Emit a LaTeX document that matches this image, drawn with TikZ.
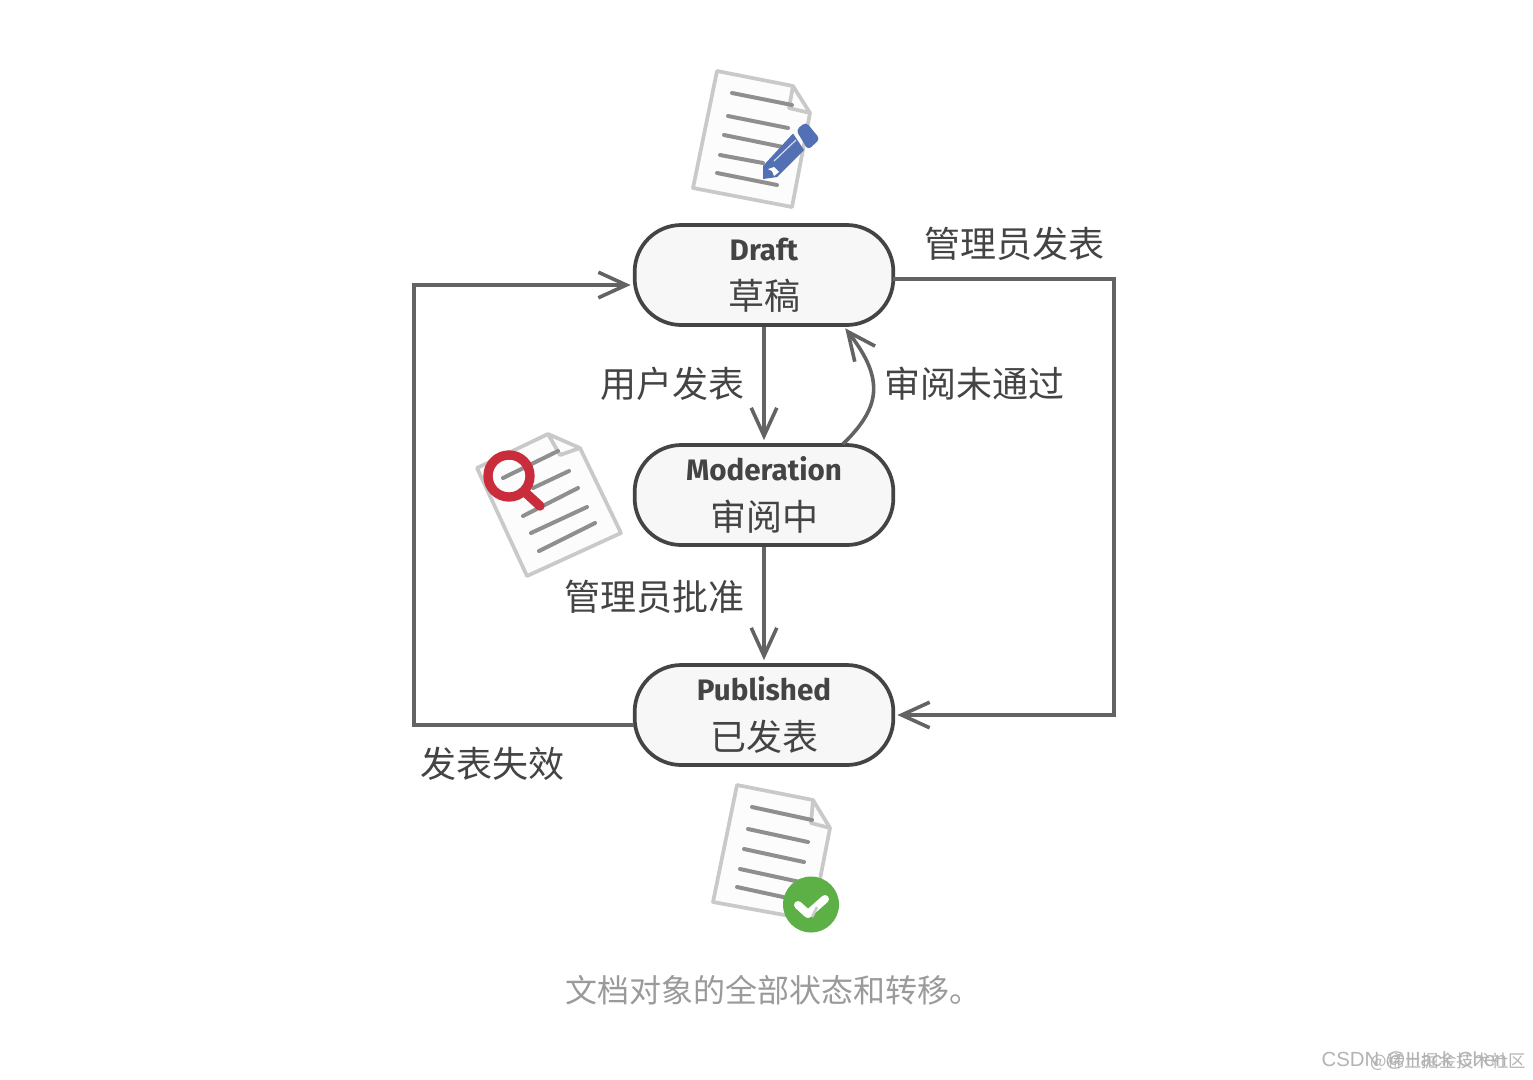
\documentclass[tikz,border=0pt]{standalone}
\usepackage{fontspec}
\usetikzlibrary{arrows.meta}
\setmainfont{Fira Sans}
\newfontfamily\cjk{Noto Sans CJK SC}
\newfontfamily\wmfont{Liberation Sans}
\definecolor{ink}{HTML}{444444}
\definecolor{wire}{HTML}{636363}
\definecolor{docedge}{HTML}{C9C9C9}
\definecolor{docline}{HTML}{8F8F8F}
\definecolor{docfill}{HTML}{FCFCFC}
\definecolor{capt}{HTML}{9A9A9A}
\definecolor{pen}{HTML}{5470B5}
\definecolor{lens}{HTML}{C92C3B}
\definecolor{okgreen}{HTML}{5CB045}
\pgfdeclarearrow{
  name = VBarb,
  setup code = {
    \pgfarrowssettipend{0pt}
    \pgfarrowssetlineend{-6pt}
    \pgfarrowssetbackend{-24.5pt}
    \pgfarrowssetvisualbackend{-6pt}
    \pgfarrowshullpoint{0pt}{0pt}
    \pgfarrowshullpoint{-24.5pt}{10pt}
    \pgfarrowshullpoint{-24.5pt}{-10pt}
  },
  drawing code = {
    \pgfsetlinewidth{2.7pt}
    \pgfsetmiterjoin
    \pgfsetbuttcap
    \pgfpathmoveto{\pgfqpoint{-24.5pt}{9.6pt}}
    \pgfpathlineto{\pgfqpoint{-3.5pt}{0pt}}
    \pgfpathlineto{\pgfqpoint{-24.5pt}{-9.6pt}}
    \pgfusepathqstroke
  }
}
\tikzset{
  state/.style={draw=ink,fill=black!3,line width=2.8pt,rounded corners=35pt,minimum width=194pt,minimum height=75pt,inner sep=0pt,align=center,text=ink,font=\fontsize{22.2}{35}\selectfont},
  flow/.style={draw=wire,line width=2.7pt,-{VBarb}},
  lab/.style={text=ink,inner sep=0pt,font=\fontsize{27}{30}\selectfont\cjk},
  paper/.style={draw=docedge,fill=docfill,line width=2.8pt,line join=round},
  fold/.style={draw=docedge,line width=2.8pt,line join=round},
  rule/.style={draw=docline,line width=3pt,line cap=round},
  wm/.style={inner sep=0pt,text=capt!75,anchor=east},
}
\begin{document}
\begin{tikzpicture}[x=0.75pt,y=-0.75pt]
\useasboundingbox (0,0) rectangle (1533,1079);
% draft document
\draw[paper] (717,71) -- (793,86) -- (810,113) -- (792,207) -- (693,188) -- cycle;
\draw[fold] (793,86) -- (789,108) -- (810,113);
\draw[rule] (732,93) -- (792,105);
\draw[rule] (728,116) -- (788,128);
\draw[rule] (724,135) -- (783,147);
\draw[rule] (720,155) -- (763,163);
\draw[rule] (717,173) -- (777,185);
\fill[pen] (763,166) -- (793,133.5) -- (804,150) -- (777,177) -- (763,179) -- cycle;
\fill[pen,rounded corners=3pt] (796,130) -- (806,122) -- (820,139) -- (808,150) -- cycle;
\draw[white!75!pen,line width=0.9pt] (774,161) -- (796,140);
\fill[white] (768,169) -- (774,167) -- (779,172) -- (774,176) -- (772,171) -- cycle;
% moderation document
\draw[paper] (477,468) -- (548,434) -- (580,448) -- (621,533) -- (527,576) -- cycle;
\draw[fold] (548,434) -- (560,455) -- (580,448);
\draw[rule] (503,478) -- (558,451);
\draw[rule] (533,488) -- (569,471);
\draw[rule] (523,516) -- (578,488);
\draw[rule] (531,533) -- (587,507);
\draw[rule] (539,551) -- (595,523);
\draw[lens,line width=7pt] (509,476) circle[radius=21];
\draw[lens,line width=7pt,line cap=round] (527,494) -- (540,506);
% published document
\draw[paper] (737,785) -- (813,800) -- (830,828) -- (812,920) -- (713,902) -- cycle;
\draw[fold] (813,800) -- (811,823) -- (830,828);
\draw[rule] (752,807) -- (812,820);
\draw[rule] (748,829) -- (808,842);
\draw[rule] (744,849) -- (804,862);
\draw[rule] (740,869) -- (800,882);
\draw[rule] (737,887) -- (797,900);
\fill[okgreen] (811,904.5) circle[radius=28];
\draw[white,line width=6pt,line cap=round,line join=round] (798,905) -- (808,914) -- (825,899);
\draw[docedge,line width=2pt] (817,907) -- (812,917);
% states
\node[state] (draft) at (764,275) {\textbf{Draft}\\[2pt]{\cjk\fontsize{27}{35}\selectfont 草稿}};
\node[state] (moderation) at (764,495) {\textbf{Moderation}\\[2pt]{\cjk\fontsize{27}{35}\selectfont 审阅中}};
\node[state] (published) at (764,715) {\textbf{Published}\\[2pt]{\cjk\fontsize{27}{35}\selectfont 已发表}};
% connector way-points
\coordinate (drout) at (893,279);
\coordinate (drcorner) at (1114,279);
\coordinate (pubcorner) at (1114,715);
\coordinate (pubin) at (897,715);
\coordinate (pubout) at (634,725);
\coordinate (lcornerb) at (414,725);
\coordinate (lcornert) at (414,285);
\coordinate (drin) at (631,285);
\coordinate (modout) at (843,444);
\coordinate (drback) at (845,328);
\draw[flow,shorten >=2pt] (draft.south) -- (moderation.north);
\draw[flow,shorten >=2pt] (moderation.south) -- (published.north);
\draw[flow] (modout) .. controls (880,408) and (885,380) .. (drback);
\draw[flow,line join=miter] (drout) -- (drcorner) -- (pubcorner) -- (pubin);
\draw[flow,line join=miter] (pubout) -- (lcornerb) -- (lcornert) -- (drin);
% labels
\node[lab] (l1) at (1014,244) {管理员发表};
\node[lab] (l2) at (672,384) {用户发表};
\node[lab] (l3) at (974.5,384) {审阅未通过};
\node[lab] (l4) at (654,597) {管理员批准};
\node[lab] (l5) at (492,764) {发表失效};
\node[inner sep=0pt,text=capt,font=\fontsize{24}{28}\selectfont\cjk,anchor=west] (cap) at (565,990) {文档对象的全部状态和转移。};
\node[wm,font=\fontsize{15.3}{16}\selectfont\wmfont] (wm1) at (1507,1060) {CSDN @Hack Chen};
\node[wm,font=\fontsize{13}{16}\selectfont\cjk] (wm2) at (1526,1062) {@稀土掘金技术社区};
\end{tikzpicture}
\end{document}
